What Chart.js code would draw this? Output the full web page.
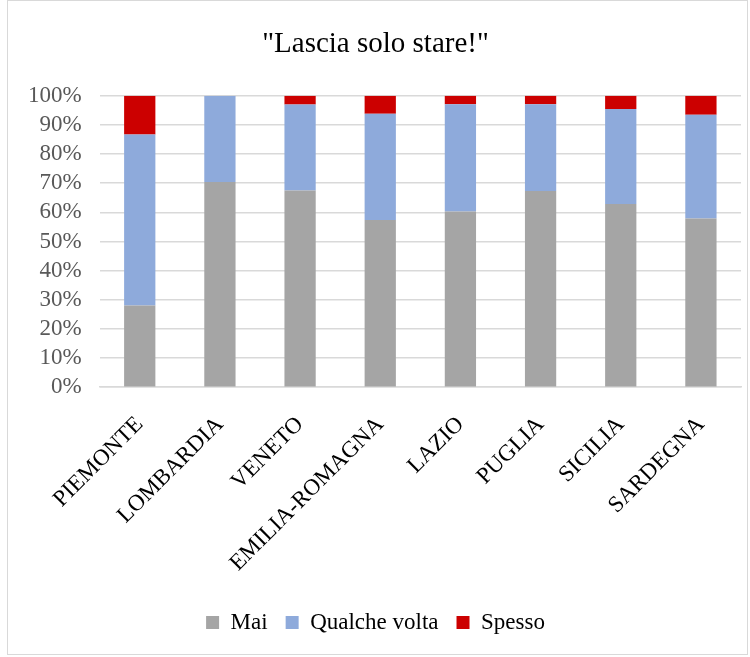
<!DOCTYPE html>
<html>
<head>
<meta charset="utf-8">
<script src="https://cdn.jsdelivr.net/npm/chart.js@4/dist/chart.umd.min.js"></script>
<style>
    html, body { margin: 0; padding: 0; background: #fff; }
    #wrap {
        position: absolute; left: 7px; top: 0; width: 741px; height: 655px;
        border: 1px solid #d9d9d9; box-sizing: border-box; background: #fff;
    }
    canvas { display: block; }
</style>
</head>
<body>
<div id="wrap"><canvas id="chart"></canvas></div>
<script>
const regions = ["PIEMONTE", "LOMBARDIA", "VENETO", "EMILIA-ROMAGNA", "LAZIO", "PUGLIA", "SICILIA", "SARDEGNA"];
const mai = [28.0, 70.4, 67.5, 57.4, 60.3, 67.3, 62.9, 57.9];
const qualcheVolta = [58.7, 29.6, 29.5, 36.4, 36.8, 29.8, 32.6, 35.6];
const spesso = [13.3, 0, 3.0, 6.2, 2.9, 2.9, 4.5, 6.5];
const yTicks = [0, 10, 20, 30, 40, 50, 60, 70, 80, 90, 100];

const serif = "'Liberation Serif', 'DejaVu Serif', serif";

const chart = new Chart(document.getElementById("chart"), {
    type: "bar",
    data: {
        labels: regions,
        datasets: [
            { label: "Mai", data: mai, backgroundColor: "#a5a5a5" },
            { label: "Qualche volta", data: qualcheVolta, backgroundColor: "#8eaadb" },
            { label: "Spesso", data: spesso, backgroundColor: "#cc0000" }
        ]
    },
    options: {
        responsive: true,
        maintainAspectRatio: false,
        animation: false,
        datasets: { bar: { categoryPercentage: 1, barPercentage: 0.39 } },
        layout: { padding: { left: 2, right: 6, top: 8, bottom: 10 } },
        scales: {
            x: {
                stacked: true,
                grid: { display: false },
                border: { color: "#d9d9d9", width: 1.5 },
                ticks: {
                    color: "#000",
                    font: { family: serif, size: 23 },
                    minRotation: 45,
                    maxRotation: 45,
                    padding: 16
                }
            },
            y: {
                stacked: true,
                min: 0,
                max: 100,
                afterBuildTicks: axis => { axis.ticks = yTicks.map(v => ({ value: v })); },
                grid: { color: "#d9d9d9", lineWidth: 1.5, drawTicks: false },
                border: { display: false },
                ticks: {
                    color: "#595959",
                    font: { family: serif, size: 23 },
                    padding: 18,
                    autoSkip: false,
                    callback: v => v + "%"
                }
            }
        },
        plugins: {
            title: {
                display: true,
                text: "\"Lascia solo stare!\"",
                color: "#000",
                font: { family: serif, size: 29, weight: "normal" },
                padding: { top: 18, bottom: 34 }
            },
            legend: {
                position: "bottom",
                labels: {
                    color: "#000",
                    font: { family: serif, size: 23 },
                    boxWidth: 13,
                    boxHeight: 13,
                    padding: 18
                }
            },
            tooltip: { enabled: false }
        }
    }
});
</script>
</body>
</html>
